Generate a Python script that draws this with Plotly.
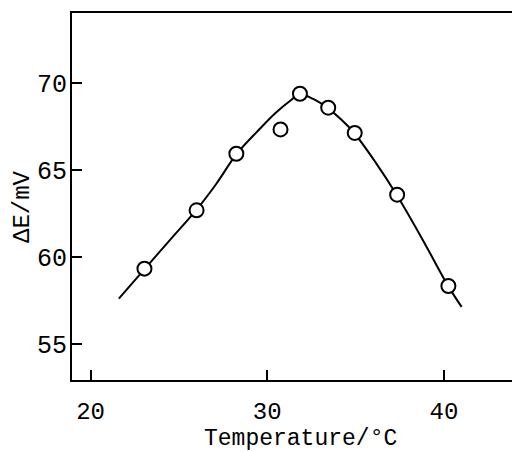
import plotly.graph_objects as go

# Measured points
temp_points = [23.05, 26.0, 28.25, 30.75, 31.85, 33.45, 34.95, 37.35, 40.25]
dE_points = [59.35, 62.7, 65.95, 67.35, 69.4, 68.6, 67.15, 63.6, 58.35]

# Hand-drawn smooth curve
curve_temp = [21.6, 23.08, 24.5, 26.0, 27.1, 28.27, 29.5, 30.45, 31.3, 31.84,
              32.6, 33.44, 34.2, 34.93, 36.1, 37.33, 38.8, 40.25, 41.0]
curve_dE = [57.63, 59.35, 61.0, 62.74, 64.2, 65.94, 67.3, 68.28, 69.0, 69.37,
            69.1, 68.56, 67.9, 67.13, 65.5, 63.58, 61.0, 58.33, 57.15]

x_ticks = [20, 30, 40]
y_ticks = [55, 60, 65, 70]

FONT = "Liberation Mono"

fig = go.Figure()
fig.add_trace(go.Scatter(
    x=curve_temp, y=curve_dE, mode="lines",
    line=dict(color="black", width=2, shape="spline", smoothing=1.0),
    hoverinfo="skip", showlegend=False,
))
fig.add_trace(go.Scatter(
    x=temp_points, y=dE_points, mode="markers",
    marker=dict(symbol="circle", size=14, color="white",
                line=dict(color="black", width=2)),
    showlegend=False,
))

fig.update_layout(
    width=512, height=452,
    margin=dict(l=72, r=0, t=13, b=72),
    paper_bgcolor="white", plot_bgcolor="white",
    font=dict(family=FONT, size=25, color="black"),
    xaxis=dict(
        range=[18.95, 43.85], tickvals=x_ticks, ticktext=[str(v) for v in x_ticks],
        ticks="inside", ticklen=10, tickwidth=2, tickcolor="black",
        showline=True, linecolor="black", linewidth=2, mirror=True,
        showgrid=False, zeroline=False,
        tickfont=dict(family=FONT, size=24, color="black"),
        ticklabelstandoff=8,
    ),
    yaxis=dict(
        range=[52.95, 74.04], tickvals=y_ticks, ticktext=[str(v) for v in y_ticks],
        ticks="inside", ticklen=10, tickwidth=2, tickcolor="black",
        showline=True, linecolor="black", linewidth=2, mirror=False,
        showgrid=False, zeroline=False,
        tickfont=dict(family=FONT, size=25, color="black"),
        ticklabelstandoff=-2,
    ),
    annotations=[
        dict(text="Temperature/°C", xref="paper", yref="paper",
             x=(300 - 72) / 440, y=(380 - 439.5) / 367,
             xanchor="center", yanchor="middle", showarrow=False,
             font=dict(family=FONT, size=23, color="black")),
        dict(text="ΔE/mV", xref="paper", yref="paper",
             x=(22 - 72) / 440, y=(380 - 207) / 367, textangle=-90,
             xanchor="center", yanchor="middle", showarrow=False,
             font=dict(family=FONT, size=24, color="black")),
    ],
)

fig.write_html("out.html")
